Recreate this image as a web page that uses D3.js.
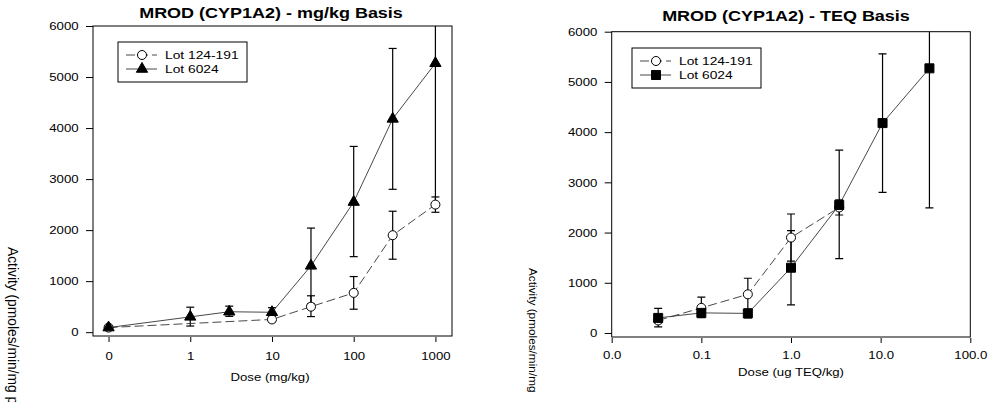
<!DOCTYPE html>
<html>
<head>
<meta charset="utf-8">
<script src="https://cdn.jsdelivr.net/npm/d3@7"></script>
<style>
  body { margin: 0; background: #fff; }
  svg { display: block; font-family: Arial, "Liberation Sans", sans-serif; }
</style>
</head>
<body>
<div id="chart"></div>
<script>
const W = 990, H = 402;
const SX = 1.2; // the source image is stretched sideways

// Lot 6024 (filled markers, solid line)
const lot6024Mg = [0, 1, 3, 10, 30, 100, 300, 1000];
const lot6024Teq = [0.033, 0.1, 0.33, 1.0, 3.45, 10.5, 35];
const lot6024Mean = [90, 300, 400, 390, 1300, 2550, 4180, 5270];
const lot6024Lo = [60, 120, 310, 300, 560, 1480, 2800, 2490];
const lot6024Hi = [120, 490, 510, 480, 2040, 3640, 5560, 8050];

// Lot 124-191 (open circles, dashed line)
const lot124Mg = [0, 10, 30, 100, 300, 1000];
const lot124Teq = [0.033, 0.1, 0.33, 1.0, 3.45];
const lot124Mean = [90, 250, 500, 770, 1900, 2500];
const lot124Lo = [70, 200, 306, 450, 1430, 2350];
const lot124Hi = [110, 300, 713, 1090, 2370, 2650];

const yTicks = [0, 1000, 2000, 3000, 4000, 5000, 6000];
const mgTicks = [0.1, 1, 10, 100, 1000];
const teqTicks = [0.01, 0.1, 1, 10, 100];

const svg = d3.select("#chart").append("svg")
    .attr("width", W)
    .attr("height", H);

function txt(g, x, y, s, size, anchor, weight) {
    return g.append("text")
        .attr("transform", `translate(${x},${y}) scale(${SX},1)`)
        .attr("font-size", size)
        .attr("text-anchor", anchor || "start")
        .attr("font-weight", weight || "normal")
        .attr("fill", "#000")
        .text(s);
}

function rows(xs, mean, lo, hi) {
    return xs.map((x, i) => ({x: x, y: mean[i], lo: lo[i], hi: hi[i]}));
}

function drawPanel(p) {
    const g = svg.append("g");
    const [x0, x1] = p.x.range();
    const [y0, y1] = p.y.range();

    const clipId = "clip" + p.id;
    svg.append("clipPath").attr("id", clipId)
        .append("rect").attr("x", x0).attr("y", y1).attr("width", x1 - x0).attr("height", y0 - y1);

    // axes
    const yAxis = g.append("g")
        .attr("transform", `translate(${x0},0)`)
        .call(d3.axisLeft(p.y).tickValues(yTicks).tickSize(7).tickFormat(d3.format("d")));
    yAxis.select(".domain").remove();
    yAxis.selectAll(".tick line").attr("stroke", "#000");
    yAxis.selectAll(".tick text")
        .attr("x", -12).attr("dy", "0.34em")
        .attr("transform", `scale(${SX},1)`)
        .attr("font-size", 11).attr("font-family", null).attr("fill", "#000");

    const xAxis = g.append("g")
        .attr("transform", `translate(0,${y0 + 1})`)
        .call(d3.axisBottom(p.x).tickValues(p.ticks).tickSize(5).tickFormat(p.fmt));
    xAxis.select(".domain").remove();
    xAxis.selectAll(".tick line").attr("stroke", "#000");
    xAxis.selectAll(".tick text")
        .attr("y", p.tickLabelY).attr("dy", "0.35em")
        .attr("transform", `scale(${SX},1)`)
        .attr("font-size", 11).attr("font-family", null).attr("fill", "#000");

    // data
    const plot = g.append("g").attr("clip-path", `url(#${clipId})`);
    const line = d3.line().x(d => p.x(d.x)).y(d => p.y(d.y));

    p.series.forEach(s => {
        const eb = plot.append("g").attr("stroke", "#000").attr("stroke-width", 1.2);
        s.data.forEach(d => {
            const cx = p.x(d.x);
            eb.append("line").attr("x1", cx).attr("x2", cx).attr("y1", p.y(d.lo)).attr("y2", p.y(d.hi));
            eb.append("line").attr("x1", cx - 4).attr("x2", cx + 4).attr("y1", p.y(d.lo)).attr("y2", p.y(d.lo));
            eb.append("line").attr("x1", cx - 4).attr("x2", cx + 4).attr("y1", p.y(d.hi)).attr("y2", p.y(d.hi));
        });
    });
    p.series.forEach(s => {
        plot.append("path").datum(s.data)
            .attr("d", line)
            .attr("fill", "none")
            .attr("stroke", "#333")
            .attr("stroke-width", 0.9)
            .attr("stroke-dasharray", s.dash);
    });
    p.series.forEach(s => {
        plot.selectAll(null).data(s.data).join("path")
            .attr("transform", d => `translate(${p.x(d.x)},${p.y(d.y)})`)
            .attr("d", d3.symbol(s.symbol, s.size)())
            .attr("fill", s.fill)
            .attr("stroke", "#000")
            .attr("stroke-width", 1);
    });

    // frame
    g.append("rect")
        .attr("x", x0).attr("y", y1).attr("width", x1 - x0).attr("height", y0 - y1)
        .attr("fill", "none").attr("stroke", "#000").attr("stroke-width", 1);

    // legend
    const L = p.legend;
    g.append("rect").attr("x", L.x).attr("y", L.y).attr("width", L.w).attr("height", L.h)
        .attr("fill", "#fff").attr("stroke", "#000").attr("stroke-width", 1);
    p.series.forEach((s, i) => {
        const ly = L.y + 13 + i * 14;
        g.append("line")
            .attr("x1", L.x + 8).attr("x2", L.x + 39).attr("y1", ly).attr("y2", ly)
            .attr("stroke", "#333").attr("stroke-width", 0.9).attr("stroke-dasharray", s.dash);
        g.append("path")
            .attr("transform", `translate(${L.x + 24},${ly})`)
            .attr("d", d3.symbol(s.symbol, s.size)())
            .attr("fill", s.fill).attr("stroke", "#000");
        txt(g, L.x + 47, ly + 4, s.name, 11.5);
    });

    // titles
    txt(g, p.title.x, p.title.y, p.title.text, 15, "middle", "bold");
    txt(g, p.xlab.x, p.xlab.y, p.xlab.text, 11, "middle");

    const yl = g.append("g");
    if (p.ylab.clip) {
        const cid = "ylclip" + p.id;
        svg.append("clipPath").attr("id", cid)
            .append("rect").attr("x", 0).attr("y", 0).attr("width", W).attr("height", p.ylab.clip);
        yl.attr("clip-path", `url(#${cid})`);
    }
    yl.append("text")
        .attr("transform", `translate(${p.ylab.x},${p.ylab.y}) rotate(90)`)
        .attr("font-size", p.ylab.size)
        .attr("fill", "#000")
        .text("Activity (pmoles/min/mg protein)");
}

// left panel: mg/kg basis (dose 0 drawn one decade left of 1)
const mgX = d => d === 0 ? 0.1 : d;
drawPanel({
    id: "L",
    x: d3.scaleLog().domain([0.0645, 1596]).range([93, 452]),
    y: d3.scaleLinear().domain([-75, 6000]).range([336, 26]),
    ticks: mgTicks,
    fmt: d => d < 1 ? "0" : d3.format("d")(d),
    tickLabelY: 19,
    series: [
        {name: "Lot 124-191", data: rows(lot124Mg.map(mgX), lot124Mean, lot124Lo, lot124Hi),
         symbol: d3.symbolCircle, size: 64, fill: "#fff", dash: "9,4"},
        {name: "Lot 6024", data: rows(lot6024Mg.map(mgX), lot6024Mean, lot6024Lo, lot6024Hi),
         symbol: d3.symbolTriangle, size: 55, fill: "#000", dash: null}
    ],
    legend: {x: 118, y: 42, w: 129, h: 40},
    title: {x: 271, y: 18, text: "MROD (CYP1A2) - mg/kg Basis"},
    xlab: {x: 270, y: 381, text: "Dose (mg/kg)"},
    ylab: {x: 8, y: 247, size: 13.8}
});

// right panel: TEQ basis (control group not shown)
drawPanel({
    id: "R",
    x: d3.scaleLog().domain([0.01, 100]).range([611.7, 970.3]),
    y: d3.scaleLinear().domain([-80, 6000]).range([337, 31.7]),
    ticks: teqTicks,
    fmt: d3.format(".1f"),
    tickLabelY: 17,
    series: [
        {name: "Lot 124-191", data: rows(lot124Teq, lot124Mean.slice(1), lot124Lo.slice(1), lot124Hi.slice(1)),
         symbol: d3.symbolCircle, size: 64, fill: "#fff", dash: "9,4"},
        {name: "Lot 6024", data: rows(lot6024Teq, lot6024Mean.slice(1), lot6024Lo.slice(1), lot6024Hi.slice(1)),
         symbol: d3.symbolSquare, size: 81, fill: "#000", dash: null}
    ],
    legend: {x: 632, y: 48, w: 129, h: 40},
    title: {x: 786, y: 20.5, text: "MROD (CYP1A2) - TEQ Basis"},
    xlab: {x: 791, y: 376, text: "Dose (ug TEQ/kg)"},
    ylab: {x: 529, y: 268, size: 11.8, clip: 395}
});
</script>
</body>
</html>
